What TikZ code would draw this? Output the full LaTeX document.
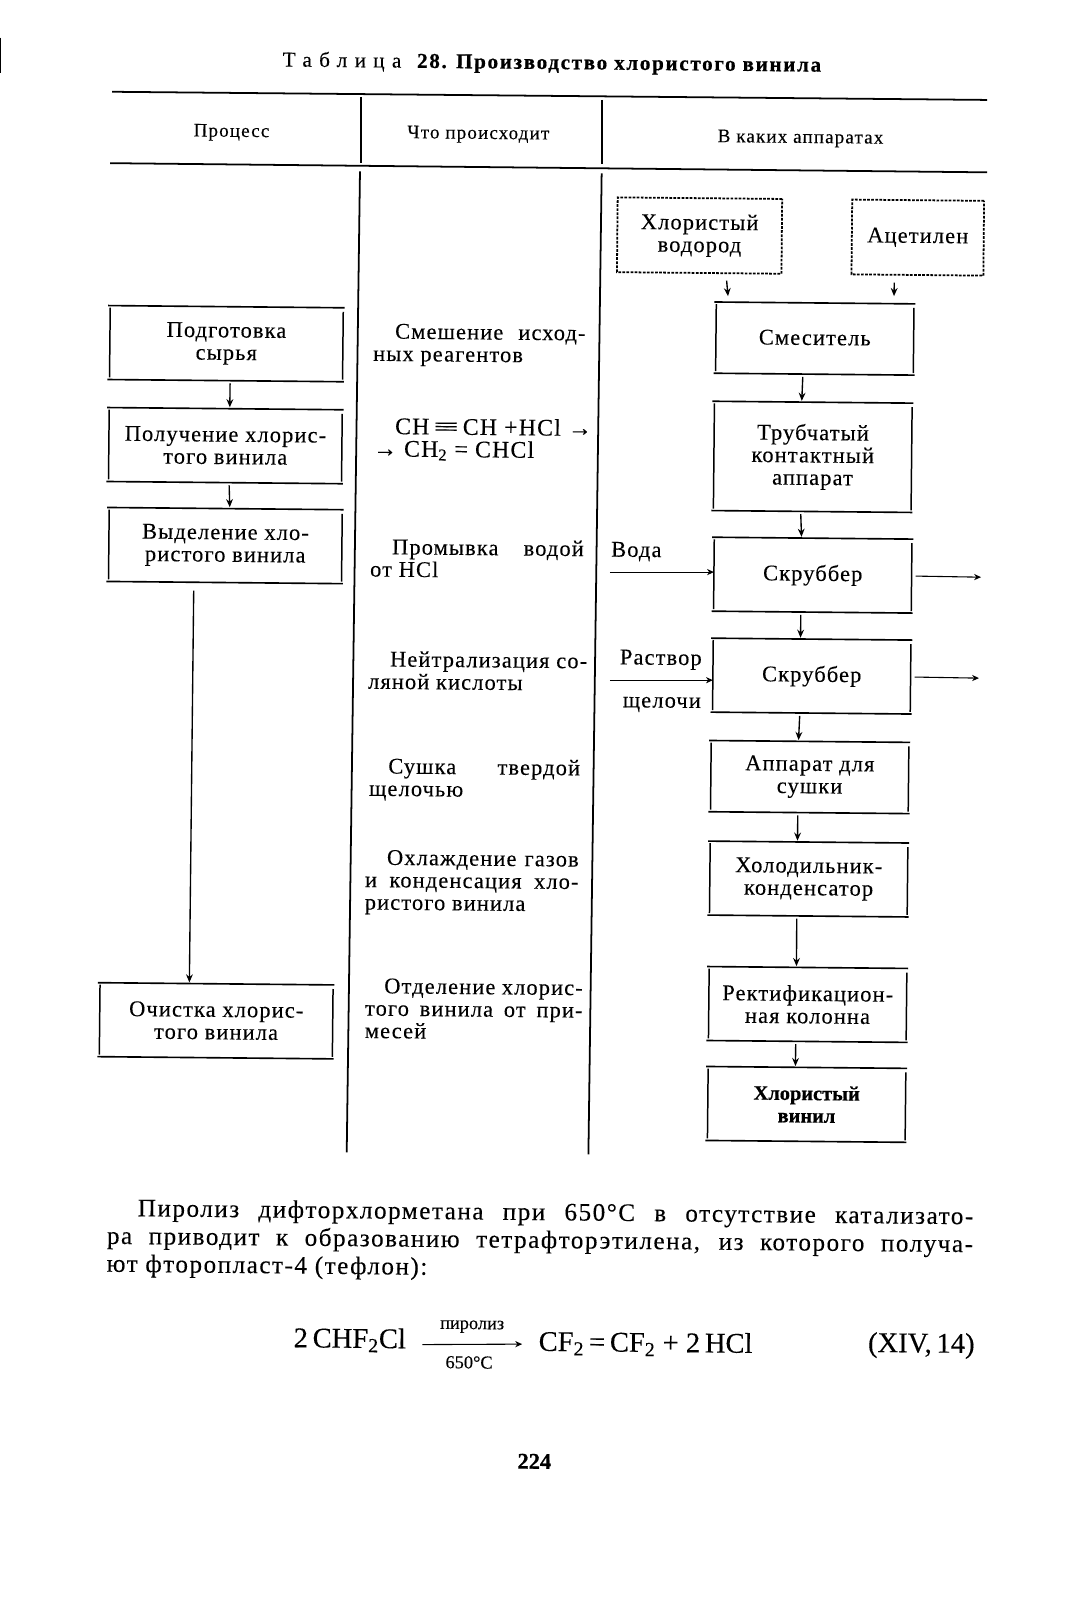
\documentclass[tikz,border=0pt]{standalone}
\usepackage{fontspec}
\setmainfont{Liberation Serif}[FakeBold=0.2, BoldFeatures={FakeBold=0.6}]
\usetikzlibrary{arrows.meta}
\tikzset{
  x=0.75pt, y=-0.75pt,
  every node/.append style={rotate=-0.55},
  rule/.style={draw=black, line width=1.3pt},
  boxtop/.style={draw=black, line width=1.2pt},
  boxside/.style={draw=black, line width=1.1pt},
  procbox/.style={minimum width=171pt, minimum height=54pt, inner sep=0pt, align=center, font=\boxfont,
    append after command={
      ([xshift=-1.5pt]\tikzlastnode.north west) edge[boxtop] ([xshift=1pt]\tikzlastnode.north east)
      ([xshift=-1.5pt]\tikzlastnode.south west) edge[boxtop] ([xshift=1pt]\tikzlastnode.south east)
      ([yshift=-1.5pt]\tikzlastnode.north west) edge[boxside] ([yshift=1.5pt]\tikzlastnode.south west)
      ([yshift=-3pt]\tikzlastnode.north east) edge[boxside] ([yshift=1.5pt]\tikzlastnode.south east)
    }},
  equipbox/.style={procbox, minimum width=145pt},
  srcbox/.style={draw=black, inner sep=0pt, align=center, font=\boxfont, dash pattern=on 2pt off 1pt, line width=1.3pt},
  flow/.style={draw=black, line width=1pt, shorten <=2pt, shorten >=1pt, -{Stealth[length=6pt,width=5pt,inset=2pt]}},
  feed/.style={draw=black, line width=0.8pt, -{Stealth[length=5pt,width=4.5pt,inset=1.5pt]}},
  head/.style={font=\headfont, inner sep=0pt},
  note/.style={font=\boxfont, inner sep=0pt, anchor=north west, text width=#1, align=justify},
  tag/.style={font=\boxfont, inner sep=0pt},
  eqn/.style={font=\eqnfont, inner sep=0pt},
  para/.style={font=\parafont, inner sep=0pt, anchor=north west, text width=637pt, align=justify}
}
\newcommand{\boxfont}{\fontsize{16.5}{16.5}\selectfont\addfontfeature{LetterSpace=5}}
\newcommand{\headfont}{\fontsize{14}{14}\selectfont\addfontfeature{LetterSpace=6}}
\newcommand{\parafont}{\fontsize{18.5}{20.5}\selectfont\addfontfeature{LetterSpace=6}}
\newcommand{\eqnfont}{\fontsize{21}{21}\selectfont}
\begin{document}
\begin{tikzpicture}
  \useasboundingbox (0,0) rectangle (1046,1569);

  % title and rules of the table
  \node[inner sep=0pt, font=\fontsize{15.5}{16}\selectfont, anchor=west] (title) at (277,60)
    {{\addfontfeature{LetterSpace=35}Таблица}\ \ \ \textbf{\addfontfeature{LetterSpace=8}28. Производство хлористого винила}};
  \coordinate (ruleAw) at (110,90);
  \coordinate (ruleAe) at (968,98);
  \coordinate (ruleBw) at (108,160);
  \coordinate (ruleBe) at (968,169);
  \draw[rule] (ruleAw) -- (ruleAe);
  \draw[rule] (ruleBw) -- (ruleBe);
  \draw[rule] (354,95) -- (354,160);
  \draw[rule] (590,98) -- (590,161);
  \draw[rule] (353,168) -- (340,1130);
  \draw[rule] (590,170) -- (577,1132);
  \draw[rule] (0.5,37) -- (0.5,72);

  \node[head] (headproc) at (227,130) {Процесс};
  \node[head] (headwhat) at (469,132) {Что происходит};
  \node[head] (headplant) at (785,136) {В каких аппаратах};

  % left column
  \node[procbox] (prep) at (222,337) {Подготовка\\сырья};
  \node[procbox] (synth) at (221,437) {Получение хлорис-\\того винила};
  \node[procbox] (sep) at (221,535) {Выделение хло-\\ристого винила};
  \node[procbox] (purify) at (212,1001) {Очистка хлорис-\\того винила};

  % right column
  \node[srcbox, minimum width=121pt, minimum height=55pt] (hcl) at (686,231) {Хлористый\\водород};
  \node[srcbox, minimum width=97pt, minimum height=55pt] (acet) at (900,233) {Ацетилен};
  \node[equipbox, minimum height=52pt] (mix) at (799,332) {\raisebox{1.5pt}{Смеситель}};
  \node[equipbox, minimum height=80pt] (tube) at (797,448) {Трубчатый\\контактный\\аппарат};
  \node[equipbox] (scrubA) at (797,564) {Скруббер};
  \node[equipbox] (scrubB) at (796,663) {Скруббер};
  \node[equipbox, minimum height=52pt] (dryer) at (794,762) {Аппарат для\\сушки};
  \node[equipbox] (cond) at (793,862) {Холодильник-\\конденсатор};
  \node[equipbox] (rect) at (792,985) {Ректификацион-\\ная колонна};
  \node[equipbox, font=\bfseries\fontsize{15}{16.5}\selectfont] (prod) at (791,1083) {Хлористый\\винил};

  % middle column
  \node[note=156pt] (stepA) at (366,317) {\hspace*{16pt}Смешение исход-\linebreak ных реагентов};
  \node[note=164pt, font=\fontsize{17.5}{16.5}\selectfont\addfontfeature{LetterSpace=5}] (stepB) at (366,409) {\hspace*{16pt}CH\,\scalebox{1.9}[1]{≡}\,CH +HCl →\\→ CH\textsubscript{2} = CHCl};
  \node[note=157pt] (stepC) at (363,528) {\hspace*{16pt}Промывка водой\linebreak от HCl};
  \node[note=161pt] (stepD) at (361,638) {\hspace*{16pt}Нейтрализация со-\linebreak ляной кислоты};
  \node[note=155pt] (stepE) at (362,743) {\hspace*{14pt}Сушка твердой\linebreak щелочью};
  \node[note=157pt] (stepF) at (358,833) {\hspace*{16pt}Охлаждение газов\linebreak и конденсация хло-\linebreak ристого винила};
  \node[note=160pt] (stepG) at (358,959) {\hspace*{14pt}Отделение хлорис-\linebreak того винила от при-\linebreak месей};

  % arrows between the boxes
  \foreach \from/\to in {prep/synth, synth/sep}
    \draw[flow] ([xshift=3pt]\from.south) -- ([xshift=3pt]\to.north);
  \foreach \from/\to in {mix/tube, tube/scrubA, scrubA/scrubB, scrubB/dryer, dryer/cond, cond/rect, rect/prod}
    \draw[flow] ([xshift=-8.5pt]\from.south) -- ([xshift=-8.5pt]\to.north);
  \draw[flow] ([xshift=-23pt,yshift=-4pt]sep.south) -- ([xshift=-20pt]purify.north);
  \draw[flow] ([xshift=20pt,yshift=-3pt]hcl.south) -- ([xshift=-64pt,yshift=4pt]mix.north);
  \draw[flow] ([xshift=-17pt,yshift=-3pt]acet.south) -- ([xshift=58pt,yshift=4pt]mix.north);

  \coordinate (waterin) at (598,561);
  \coordinate (waterout) at (962,566);
  \coordinate (alkin) at (598,667);
  \coordinate (alkout) at (960,665);
  \draw[feed] (waterin) -- (waterin -| scrubA.west);
  \draw[feed] ([xshift=3pt]scrubA.east) -- (waterout);
  \draw[feed] (alkin) -- (alkin -| scrubB.west);
  \draw[feed] ([xshift=3pt]scrubB.east) -- (alkout);

  \node[tag] (water) at (624,541) {Вода};
  \node[tag] (alkA) at (648,647) {Раствор};
  \node[tag] (alkB) at (649,691) {щелочи};

  % text below the table
  \node[para] (text) at (105,1175)
    {\hspace*{22.5pt}Пиролиз дифторхлорметана при 650°С в отсутствие катализато-\linebreak
     ра приводит к образованию тетрафторэтилена, из которого получа-\linebreak
     ют фторопласт-4 (тефлон):};

  \node[eqn] (eqleft) at (343,1314) {2\,CHF\textsubscript{2}Cl};
  \node[eqn, anchor=west] (eqright) at (528,1317) {CF\textsubscript{2}\,=\,CF\textsubscript{2}\ +\ 2\,HCl};
  \node[eqn, anchor=east] (eqnum) at (956,1320) {(XIV,\,14)};
  \draw[feed] ([xshift=12pt,yshift=-3pt]eqleft.east) -- ([xshift=-12pt,yshift=-0.8pt]eqright.west);
  \node[tag, font=\fontsize{13.5}{14}\selectfont] (eqtop) at (463,1301) {пиролиз};
  \node[tag, font=\fontsize{13.5}{14}\selectfont] (eqbot) at (460,1336) {650°C};
  \node[tag, font=\bfseries\fontsize{16.5}{17}\selectfont] (pageno) at (524,1433) {224};
\end{tikzpicture}
\end{document}
